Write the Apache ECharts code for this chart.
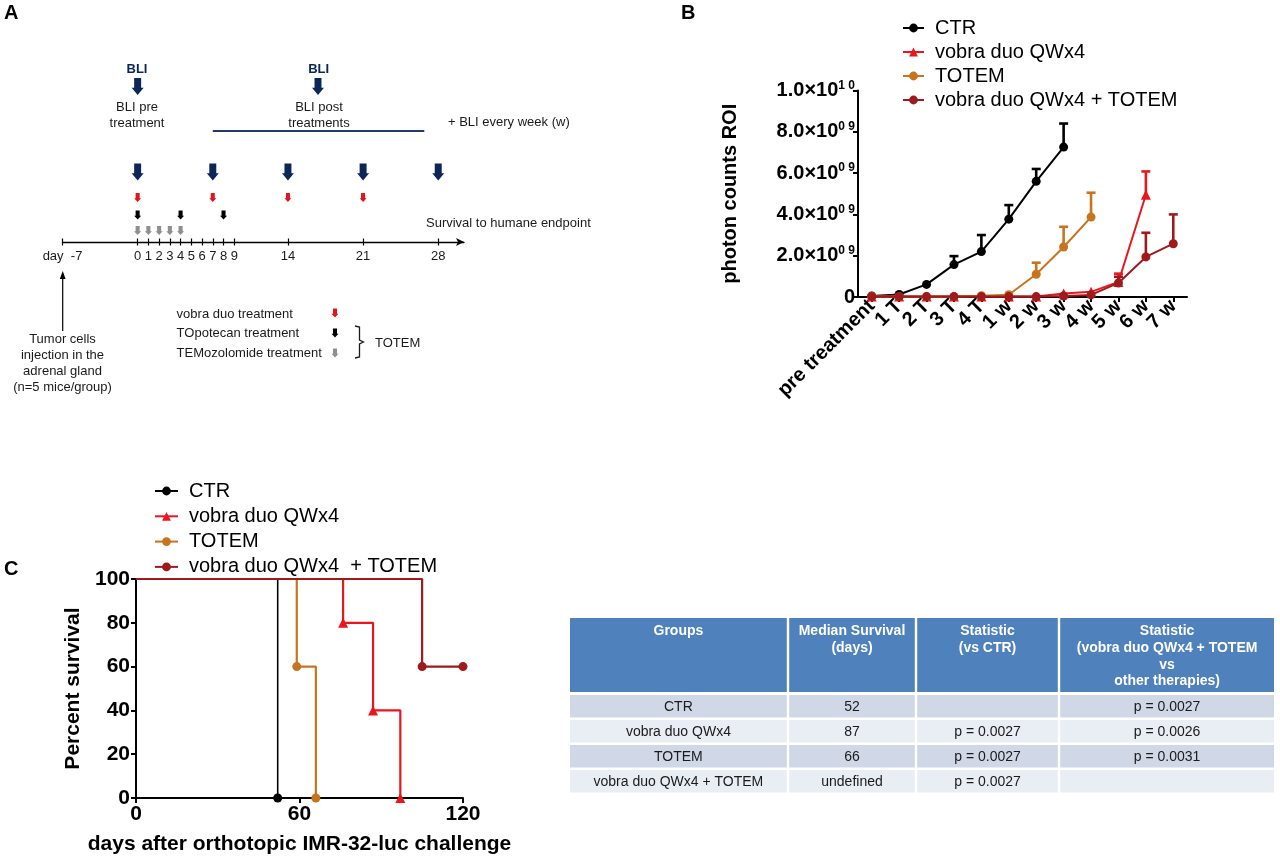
<!DOCTYPE html>
<html><head><meta charset="utf-8">
<script src="https://cdn.jsdelivr.net/npm/echarts@6.0.0/dist/echarts.min.js"></script>
<style>html,body{margin:0;padding:0;background:#fff}#c{width:1280px;height:857px}</style>
</head><body><div id="c"></div><script>
const FONT = '"Liberation Sans", Arial, Helvetica, sans-serif';

// ---------- Panel A: treatment schedule ----------
const timelineTicks = [-7, 0, 1, 2, 3, 4, 5, 6, 7, 8, 9, 14, 21, 28];
const bliDays = [0, 7, 14, 21, 28];
const bliTopDays = [0, 16.8];
const vobraDays = [0, 7, 14, 21];
const topoDays = [0, 4, 8];
const temoDays = [0, 1, 2, 3, 4];
const bliPostPeriod = [7, 26.7];

// ---------- Panel B: BLI photon counts (x1e9) ----------
const bliCategories = ['pre treatment', '1 T', '2 T', '3 T', '4 T', '1 w', '2 w', '3 w', '4 w', '5 w', '6 w', '7 w'];
const groupsB = ['CTR', 'vobra duo QWx4', 'TOTEM', 'vobra duo QWx4 + TOTEM'];
const ctrMean = [0.05, 0.12, 0.61, 1.57, 2.20, 3.77, 5.60, 7.26, null, null, null, null];
const ctrSem = [null, null, null, 0.41, 0.80, 0.68, 0.60, 1.14, null, null, null, null];
const vobraMean = [0.03, 0.02, 0.02, 0.02, 0.02, 0.02, 0.03, 0.17, 0.25, 0.73, 4.95, null];
const vobraSem = [null, null, null, null, null, null, null, null, null, 0.40, 1.13, null];
const totemMean = [0.03, 0.02, 0.02, 0.02, 0.06, 0.11, 1.10, 2.42, 3.87, null, null, null];
const totemSem = [null, null, null, null, null, null, 0.56, 0.98, 1.18, null, null, null];
const comboMean = [0.02, 0.02, 0.02, 0.02, 0.02, 0.02, 0.02, 0.05, 0.10, 0.68, 1.94, 2.58];
const comboSem = [null, null, null, null, null, null, null, null, null, 0.30, 1.17, 1.42];
const UNIT = 1e9;

// ---------- Panel C: survival ----------
const groupsC = ['CTR', 'vobra duo QWx4', 'TOTEM', 'vobra duo QWx4  + TOTEM'];
const ctrSurv = [[0, 100], [52, 0]];
const vobraSurv = [[0, 100], [76, 80], [87, 40], [97, 0]];
const totemSurv = [[0, 100], [59, 60], [66, 0]];
const comboSurv = [[0, 100], [105, 60], [120, 60]];

// ---------- Table ----------
const tableHeader = ['Groups', 'Median Survival\n(days)', 'Statistic\n(vs CTR)', 'Statistic\n(vobra duo QWx4 + TOTEM\nvs\nother therapies)'];
const tableRows = [
  ['CTR', '52', '', 'p = 0.0027'],
  ['vobra duo QWx4', '87', 'p = 0.0027', 'p = 0.0026'],
  ['TOTEM', '66', 'p = 0.0027', 'p = 0.0031'],
  ['vobra duo QWx4 + TOTEM', 'undefined', 'p = 0.0027', '']
];

// ---------- styles ----------
const COLORS = ['#000000', '#e8161d', '#c8731e', '#9e1a1d'];
const SYMBOLS = ['circle', 'triangle', 'circle', 'circle'];
const NAVY = '#0b2657';
const ARROW = 'path://M2.1,0L7.9,0L7.9,5.8L10,5.8L5,10L0,5.8L2.1,5.8Z';

const chart = echarts.init(document.getElementById('c'), null, {renderer: 'canvas'});

function lane(days, y) { return days.map(d => [d, y]); }
function arrowScatter(days, y, color, size) {
  return {type: 'scatter', xAxisIndex: 0, yAxisIndex: 0, data: lane(days, y), symbol: ARROW,
    symbolSize: size, itemStyle: {color: color, opacity: 1}, silent: true, z: 5};
}
function errRender(color) {
  return function (params, api) {
    const x = api.value(0), m = api.value(1), s = api.value(2);
    const p0 = api.coord([x, m]);
    const p1 = api.coord([x, m + s]);
    const hw = 4.5;
    return {type: 'group', children: [
      {type: 'line', shape: {x1: p0[0], y1: p0[1], x2: p1[0], y2: p1[1]}, style: {stroke: color, lineWidth: 2.6}},
      {type: 'line', shape: {x1: p1[0] - hw, y1: p1[1], x2: p1[0] + hw, y2: p1[1]}, style: {stroke: color, lineWidth: 2.6}}
    ]};
  };
}
const meansB = [ctrMean, vobraMean, totemMean, comboMean];
const semsB = [ctrSem, vobraSem, totemSem, comboSem];
const survC = [ctrSurv, vobraSurv, totemSurv, comboSurv];

const seriesB = [];
groupsB.forEach((g, i) => {
  seriesB.push({
    type: 'line', name: g, xAxisIndex: 2, yAxisIndex: 1,
    data: meansB[i].map(v => v == null ? '-' : v * UNIT),
    symbol: SYMBOLS[i], symbolSize: SYMBOLS[i] === 'triangle' ? 10 : 9,
    lineStyle: {color: COLORS[i], width: 2}, itemStyle: {color: COLORS[i], opacity: 1},
    z: 3 + i, clip: false
  });
});
groupsB.forEach((g, i) => {
  const d = [];
  meansB[i].forEach((m, k) => { if (m != null && semsB[i][k] != null) d.push([k, m * UNIT, semsB[i][k] * UNIT]); });
  seriesB.push({type: 'custom', name: g + ' SEM', xAxisIndex: 2, yAxisIndex: 1, data: d,
    encode: {x: 0, y: 1}, renderItem: errRender(COLORS[i]), z: 2 + i, silent: true});
});

const seriesC = groupsC.map((g, i) => ({
  type: 'line', name: g, xAxisIndex: 3, yAxisIndex: 2, step: 'end',
  data: survC[i].map((p, k) => k === 0 ? {value: p, symbol: 'none'} : {value: p}),
  symbol: SYMBOLS[i], symbolSize: SYMBOLS[i] === 'triangle' ? 10 : 9,
  lineStyle: {color: COLORS[i], width: i === 0 ? 1.6 : 2.2}, itemStyle: {color: COLORS[i], opacity: 1},
  z: 3 + i, clip: false
}));

const seriesA = [
  arrowScatter(bliDays, 4.375, NAVY, [12, 17]),
  arrowScatter(bliTopDays, 9.72, NAVY, [12, 17]),
  arrowScatter(vobraDays, 2.78, '#e3151c', [7, 9]),
  arrowScatter(topoDays, 1.69, '#000000', [7, 9]),
  arrowScatter(temoDays, 0.72, '#8f8f8f', [7, 9]),
  {type: 'line', xAxisIndex: 0, yAxisIndex: 0, data: lane(bliPostPeriod, 6.94), symbol: 'none',
    lineStyle: {color: '#1f3a6b', width: 2}, silent: true}
];

// ---------- graphics ----------
const g = [];
function txt(t, x, y, opt) {
  opt = opt || {};
  g.push({type: 'text', x: x, y: y, silent: true, style: {text: t,
    font: (opt.bold ? 'bold ' : '') + (opt.size || 13) + 'px ' + FONT,
    fill: opt.color || '#1a1a1a', align: opt.align || 'center', verticalAlign: opt.va || 'middle',
    lineHeight: opt.lh || undefined}});
}
function arrowPoly(cx, cy, w, h, color) {
  const sw = w * 0.29, sh = h * 0.58;
  g.push({type: 'polygon', silent: true, shape: {points: [
    [cx - sw, cy - h / 2], [cx + sw, cy - h / 2], [cx + sw, cy - h / 2 + sh], [cx + w / 2, cy - h / 2 + sh],
    [cx, cy + h / 2], [cx - w / 2, cy - h / 2 + sh], [cx - sw, cy - h / 2 + sh]]}, style: {fill: color}});
}
// panel letters
txt('A', 4, 13, {bold: true, size: 20, align: 'left', color: '#000'});
txt('B', 681, 13, {bold: true, size: 20, align: 'left', color: '#000'});
txt('C', 4, 569, {bold: true, size: 20, align: 'left', color: '#000'});
// panel A texts
txt('BLI', 137, 69, {bold: true, color: NAVY});
txt('BLI', 318.6, 69, {bold: true, color: NAVY});
txt('BLI pre\ntreatment', 137, 115, {lh: 16});
txt('BLI post\ntreatments', 319, 115, {lh: 16});
txt('+ BLI every week (w)', 448, 122, {align: 'left'});
txt('Survival to humane endpoint', 426, 223, {align: 'left'});
txt('Tumor cells\ninjection in the\nadrenal gland\n(n=5 mice/group)', 62.5, 363, {lh: 16});
txt('vobra duo treatment', 176.6, 314, {align: 'left'});
txt('TOpotecan treatment', 176.6, 333, {align: 'left'});
txt('TEMozolomide treatment', 176.6, 353, {align: 'left'});
txt('TOTEM', 375, 343, {align: 'left'});
arrowPoly(335, 313, 7, 9, '#e3151c');
arrowPoly(335, 333, 7, 9, '#000000');
arrowPoly(335, 353, 7, 9, '#8f8f8f');
g.push({type: 'polyline', silent: true, shape: {points: [[355, 326], [359.5, 327], [359.5, 340], [363.5, 342], [359.5, 344], [359.5, 357], [355, 358]]},
  style: {stroke: '#1a1a1a', lineWidth: 1.3, fill: null}});
g.push({type: 'line', silent: true, shape: {x1: 62.7, y1: 331, x2: 62.7, y2: 277}, style: {stroke: '#000', lineWidth: 1.2}});
g.push({type: 'polygon', silent: true, shape: {points: [[62.7, 271], [59.8, 279], [65.6, 279]]}, style: {fill: '#000'}});

// table
const colEdges = [570, 788, 916, 1059, 1274];
const headTop = 618, headBottom = 692;
const rowTops = [695, 720, 745, 770], rowH = 22.5;
const rowColors = ['#d0d8e8', '#e9edf4'];
for (let c = 0; c < 4; c++) {
  const x0 = colEdges[c] + (c === 0 ? 0 : 1.2), x1 = colEdges[c + 1] - (c === 3 ? 0 : 1.2);
  g.push({type: 'rect', silent: true, shape: {x: x0, y: headTop, width: x1 - x0, height: headBottom - headTop}, style: {fill: '#4f81bd'}});
  txt(tableHeader[c], (x0 + x1) / 2, headTop + 5, {bold: true, size: 14, color: '#ffffff', va: 'top', lh: 16.7});
  tableRows.forEach((row, r) => {
    g.push({type: 'rect', silent: true, shape: {x: x0, y: rowTops[r], width: x1 - x0, height: rowH}, style: {fill: rowColors[r % 2]}});
    if (row[c]) txt(row[c], (x0 + x1) / 2, rowTops[r] + rowH / 2 + 0.5, {size: 14, color: '#1a1a1a'});
  });
}

const axisBlack = {show: true, lineStyle: {color: '#000', width: 2}};
const option = {
  animation: false,
  backgroundColor: '#ffffff',
  textStyle: {fontFamily: FONT},
  grid: [
    {left: 62.5, top: 82, width: 401.5, height: 160, outerBoundsMode: 'none', containLabel: false},
    {left: 858, top: 90.5, width: 329, height: 206.5, outerBoundsMode: 'none', containLabel: false},
    {left: 136, top: 579, width: 327, height: 219, outerBoundsMode: 'none', containLabel: false}
  ],
  legend: [
    {data: groupsB, orient: 'vertical', left: 897, top: 13, itemWidth: 21, itemHeight: 11, itemGap: 4,
      selectedMode: false, textStyle: {fontSize: 20, lineHeight: 20, color: '#000', fontFamily: FONT, padding: [0, 0, 0, 6]}},
    {data: groupsC, orient: 'vertical', left: 149, top: 476, itemWidth: 23, itemHeight: 11, itemGap: 5.3,
      selectedMode: false, textStyle: {fontSize: 20, lineHeight: 20, color: '#000', fontFamily: FONT, padding: [0, 0, 0, 6]}}
  ],
  xAxis: [
    {gridIndex: 0, type: 'value', min: -7, max: 30.4, splitLine: {show: false},
      axisLine: {show: true, lineStyle: {color: '#000', width: 1.3}, symbol: ['none', 'arrow'], symbolSize: [6, 8]},
      axisTick: {show: true, length: 3.5, customValues: timelineTicks, lineStyle: {color: '#000', width: 1.2}},
      axisLabel: {customValues: timelineTicks, margin: 8, fontSize: 13, color: '#1a1a1a', fontFamily: FONT,
        formatter: v => v === -7 ? 'day  -7' : String(v)}},
    {gridIndex: 0, type: 'value', min: -7, max: 30.4, position: 'bottom', splitLine: {show: false},
      axisLine: {show: false},
      axisTick: {show: true, inside: true, length: 3.5, customValues: timelineTicks, lineStyle: {color: '#000', width: 1.2}},
      axisLabel: {show: false}},
    {gridIndex: 1, type: 'category', data: bliCategories, boundaryGap: true,
      axisLine: axisBlack,
      axisTick: {show: true, alignWithLabel: true, length: 5, lineStyle: {color: '#000', width: 2}},
      axisLabel: {interval: 0, rotate: 45, margin: 6, fontSize: 20, fontWeight: 'bold', color: '#000', fontFamily: FONT}},
    {gridIndex: 2, type: 'value', min: 0, max: 120, interval: 60, splitLine: {show: false},
      axisLine: axisBlack,
      axisTick: {show: true, length: 5, lineStyle: {color: '#000', width: 2}},
      axisLabel: {margin: 6, fontSize: 21, fontWeight: 'bold', color: '#000', fontFamily: FONT},
      name: 'days after orthotopic IMR-32-luc challenge', nameLocation: 'middle', nameGap: 36, nameMoveOverlap: false,
      nameTextStyle: {fontSize: 21, fontWeight: 'bold', color: '#000', fontFamily: FONT}}
  ],
  yAxis: [
    {gridIndex: 0, type: 'value', min: 0, max: 10, show: false},
    {gridIndex: 1, type: 'value', min: 0, max: 1e10, interval: 2e9, splitLine: {show: false},
      axisLine: axisBlack,
      axisTick: {show: true, length: 5, lineStyle: {color: '#000', width: 2}},
      axisLabel: {margin: 3, color: '#000', fontFamily: FONT,
        formatter: v => {
          if (v === 0) return '{m|0}';
          const e = Math.floor(Math.log10(v) + 1e-9);
          const m = (v / Math.pow(10, e)).toFixed(1);
          const es = String(e).padStart(2, '0').split('').join(' ');
          return '{m|' + m + '×10}{s|' + es + '}';
        },
        rich: {
          m: {fontSize: 20, fontWeight: 'bold', color: '#000', fontFamily: FONT, lineHeight: 22},
          s: {fontSize: 12, fontWeight: 'bold', color: '#000', fontFamily: FONT, lineHeight: 12, verticalAlign: 'top'}
        }},
      name: 'photon counts ROI', nameLocation: 'middle', nameGap: 118, nameRotate: 90, nameMoveOverlap: false,
      nameTextStyle: {fontSize: 20, fontWeight: 'bold', color: '#000', fontFamily: FONT}},
    {gridIndex: 2, type: 'value', min: 0, max: 100, interval: 20, splitLine: {show: false},
      axisLine: axisBlack,
      axisTick: {show: true, length: 5, lineStyle: {color: '#000', width: 2}},
      axisLabel: {margin: 6, fontSize: 21, fontWeight: 'bold', color: '#000', fontFamily: FONT},
      name: 'Percent survival', nameLocation: 'middle', nameGap: 52, nameRotate: 90, nameMoveOverlap: false,
      nameTextStyle: {fontSize: 21, fontWeight: 'bold', color: '#000', fontFamily: FONT}}
  ],
  series: seriesA.concat(seriesB, seriesC),
  graphic: g
};
chart.setOption(option);
</script></body></html>
